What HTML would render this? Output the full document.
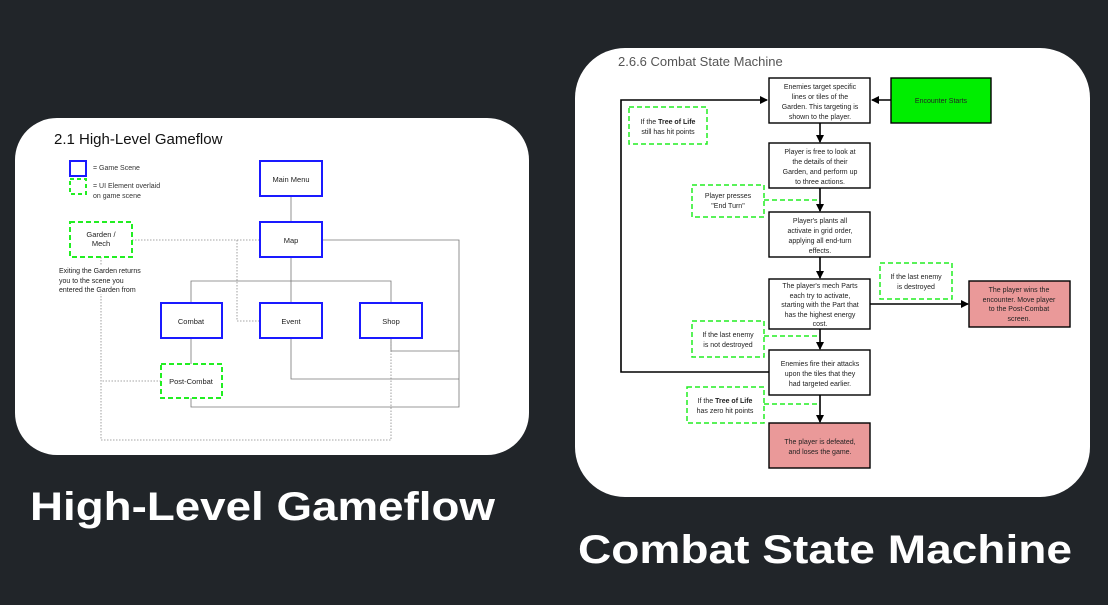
<!DOCTYPE html>
<html><head><meta charset="utf-8"><style>
html,body{margin:0;padding:0;background:#212529;}
svg{display:block;font-family:"Liberation Sans",Arial,sans-serif;}
</style></head><body>
<svg width="1108" height="605" viewBox="0 0 1108 605" xmlns="http://www.w3.org/2000/svg">
<defs>
<marker id="a" markerWidth="8" markerHeight="8" refX="7" refY="4" orient="auto" markerUnits="userSpaceOnUse"><path d="M0,0 L8,4 L0,8 z" fill="#000"/></marker>
</defs>
<rect width="1108" height="605" fill="#212529"/>
<!-- left card -->
<rect x="15" y="118" width="514" height="337" rx="42" fill="#fff"/>
<text x="54" y="144" font-size="15" fill="#111">2.1 High-Level Gameflow</text>
<rect x="70" y="161" width="16" height="15" fill="none" stroke="#1a1aff" stroke-width="2"/>
<text x="93" y="170" font-size="7" fill="#333">= Game Scene</text>
<rect x="70" y="179" width="16" height="15" fill="none" stroke="#22ee22" stroke-width="2" stroke-dasharray="4,3"/>
<text x="93" y="188" font-size="7" fill="#333">= UI Element overlaid</text>
<text x="93" y="198" font-size="7" fill="#333">on game scene</text>
<g fill="none" stroke="#777" stroke-width="0.8">
<path d="M291 196 V222"/>
<path d="M291 257 V303 M191 303 V281 H391 V303"/>
<path d="M322 240 H459 V407 H191 V398"/>
<path d="M391 338 V351 H459 M291 338 V379 H459"/>
<path d="M191 338 V364"/>
</g>
<g fill="none" stroke="#888" stroke-width="0.8" stroke-dasharray="1.5,1.5">
<path d="M132 240 H260 M237 240 V321 H260"/>
<path d="M101 257 V440 H391 V338"/>
<path d="M161 381 H101"/>
</g>
<g fill="#fff" stroke="#1a1aff" stroke-width="2">
<rect x="260" y="161" width="62" height="35"/>
<rect x="260" y="222" width="62" height="35"/>
<rect x="161" y="303" width="61" height="35"/>
<rect x="260" y="303" width="62" height="35"/>
<rect x="360" y="303" width="62" height="35"/>
</g>
<g fill="#fff" stroke="#22ee22" stroke-width="2" stroke-dasharray="5,3">
<rect x="70" y="222" width="62" height="35"/>
<rect x="161" y="364" width="61" height="34"/>
</g>
<g font-size="7.5" fill="#222" text-anchor="middle">
<text x="291" y="182">Main Menu</text>
<text x="291" y="243">Map</text>
<text x="101" y="237">Garden /</text>
<text x="101" y="246">Mech</text>
<text x="191" y="324">Combat</text>
<text x="291" y="324">Event</text>
<text x="391" y="324">Shop</text>
<text x="191" y="384">Post-Combat</text>
</g>
<g font-size="7" fill="#222">
<rect x="58" y="265" width="92" height="29" fill="#fff"/>
<text x="59" y="273">Exiting the Garden returns</text>
<text x="59" y="283">you to the scene you</text>
<text x="59" y="292">entered the Garden from</text>
</g>
<!-- right card -->
<rect x="575" y="48" width="515" height="449" rx="50" fill="#fff"/>
<text x="618" y="66" font-size="13" fill="#555">2.6.6 Combat State Machine</text>
<g fill="none" stroke="#000" stroke-width="1.6">
<path d="M769 372 H621 V100 H767" marker-end="url(#a)"/>
<path d="M891 100 H872" marker-end="url(#a)"/>
<path d="M820 123 V142" marker-end="url(#a)"/>
<path d="M820 188 V211" marker-end="url(#a)"/>
<path d="M820 257 V278" marker-end="url(#a)"/>
<path d="M870 304 H968" marker-end="url(#a)"/>
<path d="M820 329 V349" marker-end="url(#a)"/>
<path d="M820 395 V422" marker-end="url(#a)"/>
</g>
<g stroke="#000" stroke-width="1.4">
<rect x="769" y="78" width="101" height="45" fill="#fff"/>
<rect x="891" y="78" width="100" height="45" fill="#00ee00"/>
<rect x="769" y="143" width="101" height="45" fill="#fff"/>
<rect x="769" y="212" width="101" height="45" fill="#fff"/>
<rect x="769" y="279" width="101" height="50" fill="#fff"/>
<rect x="769" y="350" width="101" height="45" fill="#fff"/>
<rect x="769" y="423" width="101" height="45" fill="#ea9999"/>
<rect x="969" y="281" width="101" height="46" fill="#ea9999"/>
</g>
<g fill="none" stroke="#22ee22" stroke-width="1.5" stroke-dasharray="5,3">
<rect x="629" y="107" width="78" height="37" fill="#fff"/>
<rect x="692" y="185" width="72" height="32" fill="#fff"/>
<path d="M764 200 H818"/>
<rect x="880" y="263" width="72" height="36" fill="#fff"/>
<rect x="692" y="321" width="72" height="36" fill="#fff"/>
<path d="M764 336 H818"/>
<rect x="687" y="387" width="77" height="36" fill="#fff"/>
<path d="M764 404 H818"/>
</g>
<g font-size="7" fill="#222" text-anchor="middle">
<text x="820" y="89">Enemies target specific</text>
<text x="820" y="99">lines or tiles of the</text>
<text x="820" y="109">Garden. This targeting is</text>
<text x="820" y="119">shown to the player.</text>
<text x="941" y="103">Encounter Starts</text>
<text x="668" y="124">If the <tspan font-weight="bold">Tree of Life</tspan></text>
<text x="668" y="134">still has hit points</text>
<text x="820" y="154">Player is free to look at</text>
<text x="820" y="164">the details of their</text>
<text x="820" y="174">Garden, and perform up</text>
<text x="820" y="184">to three actions.</text>
<text x="728" y="198">Player presses</text>
<text x="728" y="208">"End Turn"</text>
<text x="820" y="223">Player's plants all</text>
<text x="820" y="233">activate in grid order,</text>
<text x="820" y="243">applying all end-turn</text>
<text x="820" y="253">effects.</text>
<text x="916" y="279">If the last enemy</text>
<text x="916" y="289">is destroyed</text>
<text x="820" y="288">The player's mech Parts</text>
<text x="820" y="298">each try to activate,</text>
<text x="820" y="307">starting with the Part that</text>
<text x="820" y="317">has the highest energy</text>
<text x="820" y="326">cost.</text>
<text x="1019" y="292">The player wins the</text>
<text x="1019" y="302">encounter. Move player</text>
<text x="1019" y="311">to the Post-Combat</text>
<text x="1019" y="321">screen.</text>
<text x="728" y="337">If the last enemy</text>
<text x="728" y="347">is not destroyed</text>
<text x="820" y="366">Enemies fire their attacks</text>
<text x="820" y="376">upon the tiles that they</text>
<text x="820" y="386">had targeted earlier.</text>
<text x="725" y="403">If the <tspan font-weight="bold">Tree of Life</tspan></text>
<text x="725" y="413">has zero hit points</text>
<text x="820" y="444">The player is defeated,</text>
<text x="820" y="454">and loses the game.</text>
</g>
<text x="30" y="520" font-size="40" font-weight="bold" fill="#fff" textLength="465" lengthAdjust="spacingAndGlyphs">High-Level Gameflow</text>
<text x="578" y="563" font-size="40" font-weight="bold" fill="#fff" textLength="494" lengthAdjust="spacingAndGlyphs">Combat State Machine</text>
</svg>
</body></html>
